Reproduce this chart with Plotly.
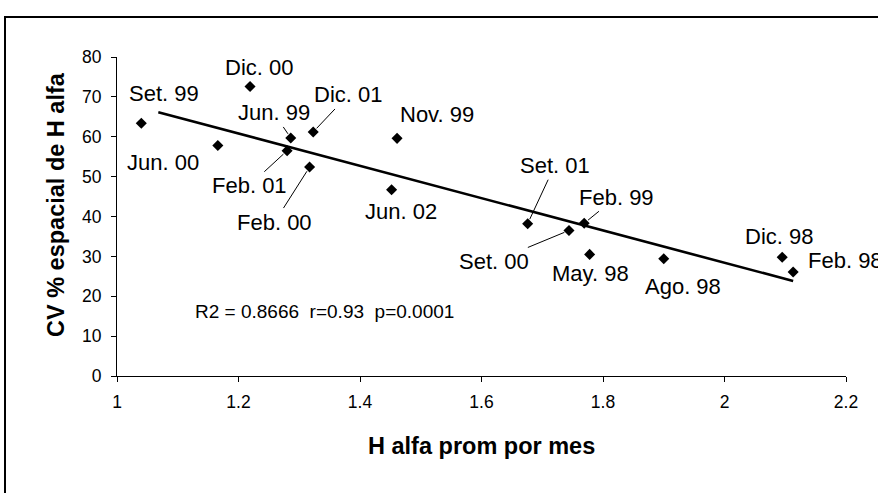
import plotly.graph_objects as go

# ---- data ----
months = ["Set. 99", "Jun. 00", "Dic. 00", "Jun. 99", "Feb. 01", "Dic. 01", "Feb. 00",
          "Nov. 99", "Jun. 02", "Set. 01", "Set. 00", "Feb. 99", "May. 98", "Ago. 98",
          "Dic. 98", "Feb. 98"]
h_alfa = [1.040, 1.166, 1.219, 1.286, 1.280, 1.323, 1.317,
          1.461, 1.452, 1.676, 1.744, 1.769, 1.778, 1.900,
          2.095, 2.113]
cv_espacial = [63.4, 57.8, 72.6, 59.7, 56.5, 61.2, 52.4,
               59.6, 46.7, 38.2, 36.5, 38.3, 30.5, 29.4,
               29.8, 26.1]
x_ticks = [1, 1.2, 1.4, 1.6, 1.8, 2, 2.2]
y_ticks = [0, 10, 20, 30, 40, 50, 60, 70, 80]
trend_slope = -40.5
trend_intercept = 109.4
trend_x = [1.068, 2.113]
stats_text = "R2 = 0.8666  r=0.93  p=0.0001"

# ---- label placement (pixel offsets of text centre from the point; leader = line to point) ----
label_pos = {
    "Set. 99": (23, -30, False), "Jun. 00": (-55, 17, False), "Dic. 00": (9, -19, False),
    "Jun. 99": (-17, -25, True), "Feb. 01": (-38, 35, True), "Dic. 01": (35, -37, True),
    "Feb. 00": (-35, 55, True), "Nov. 99": (40, -24, False), "Jun. 02": (9, 22, False),
    "Set. 01": (27, -58, True), "Set. 00": (-75, 31, True), "Feb. 99": (32, -26, True),
    "May. 98": (1, 19, False), "Ago. 98": (19, 28, False), "Dic. 98": (-3, -21, False),
    "Feb. 98": (52, -11, False),
}

FONT = "Liberation Sans, Arial, sans-serif"
W, H = 878, 493
ML, MR, MT, MB = 117, 32, 57, 117
PW, PH = W - ML - MR, H - MT - MB

fig = go.Figure()
fig.add_trace(go.Scatter(
    x=trend_x, y=[trend_intercept + trend_slope * v for v in trend_x],
    mode="lines", line=dict(color="black", width=2.6), showlegend=False, hoverinfo="skip"))
fig.add_trace(go.Scatter(
    x=h_alfa, y=cv_espacial, mode="markers",
    marker=dict(symbol="diamond", size=8.5, color="black"),
    text=months, showlegend=False))

annotations = []
for m, xv, yv in zip(months, h_alfa, cv_espacial):
    dx, dy, leader = label_pos[m]
    if leader:
        annotations.append(dict(x=xv, y=yv, xref="x", yref="y", text=m, showarrow=True,
                                ax=dx, ay=dy, arrowhead=0, arrowwidth=1, arrowcolor="black",
                                standoff=5, font=dict(family=FONT, size=22, color="black")))
    else:
        annotations.append(dict(x=xv, y=yv, xref="x", yref="y", text=m, showarrow=False,
                                xshift=dx, yshift=-dy, xanchor="center", yanchor="middle",
                                font=dict(family=FONT, size=22, color="black")))

annotations.append(dict(x=(324 - ML) / PW, y=(MT + PH - 311) / PH,
                        xref="paper", yref="paper", text=stats_text, showarrow=False,
                        xanchor="center", yanchor="middle",
                        font=dict(family=FONT, size=19, color="black")))
annotations.append(dict(x=0.5, y=(MT + PH - 446) / PH, xref="paper", yref="paper",
                        text="<b>H alfa prom por mes</b>", showarrow=False,
                        xanchor="center", yanchor="middle",
                        font=dict(family=FONT, size=23.5, color="black")))
annotations.append(dict(x=(56 - ML) / PW, y=(MT + PH - 205) / PH, xref="paper", yref="paper",
                        text="<b>CV % espacial de H alfa</b>", showarrow=False, textangle=-90,
                        xanchor="center", yanchor="middle",
                        font=dict(family=FONT, size=23.5, color="black")))

fig.update_layout(
    width=W, height=H, margin=dict(l=ML, r=MR, t=MT, b=MB),
    paper_bgcolor="white", plot_bgcolor="white",
    xaxis=dict(range=[1, 2.2], tickvals=x_ticks, showline=True, linecolor="black", linewidth=1,
               ticks="outside", ticklen=5, tickcolor="black", showgrid=False, zeroline=False,
               tickfont=dict(family=FONT, size=17.5, color="black"), ticklabelstandoff=5),
    yaxis=dict(range=[0, 80], tickvals=y_ticks, showline=True, linecolor="black", linewidth=1,
               ticks="outside", ticklen=5, tickcolor="black", showgrid=False, zeroline=False,
               tickfont=dict(family=FONT, size=17.5, color="black"), ticklabelstandoff=6),
    annotations=annotations,
    shapes=[dict(type="rect", xref="paper", yref="paper",
                 x0=(5 - ML) / PW, x1=(890 - ML) / PW,
                 y0=(MT + PH - 510) / PH, y1=(MT + PH - 17) / PH,
                 line=dict(color="black", width=2), layer="below")],
)

fig.write_html("out.html", config={"displayModeBar": False},
               post_script="document.body.style.margin='0';document.body.style.overflow='hidden';")
